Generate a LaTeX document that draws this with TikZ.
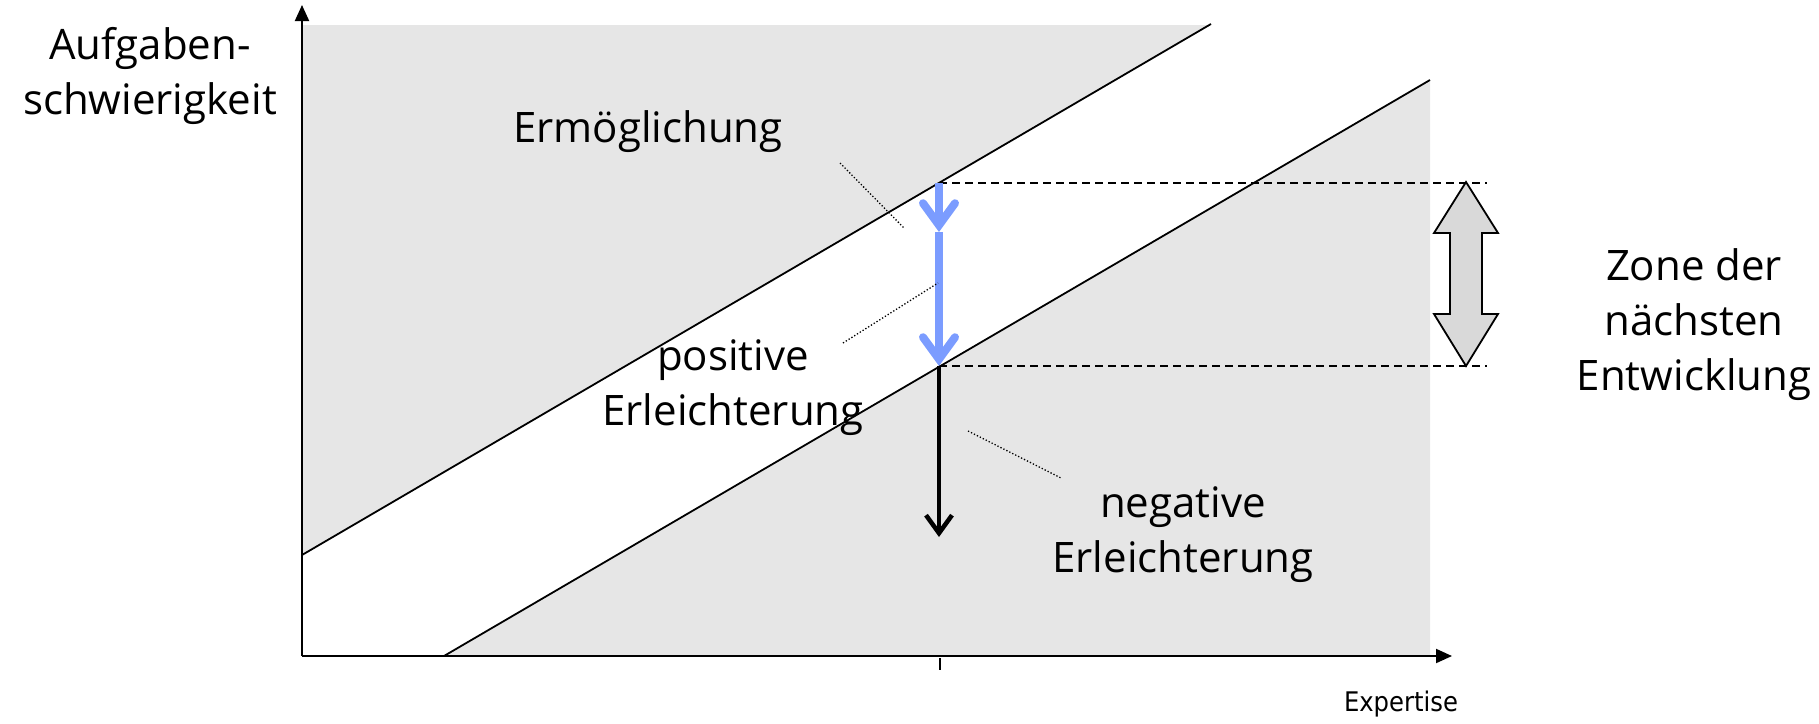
\documentclass[tikz,border=0pt]{standalone}
\usepackage{fontspec}
\setmainfont{Open Sans}
\newfontfamily\axisfont{DejaVu Sans Condensed}
\definecolor{ZoneGray}{HTML}{E6E6E6}
\definecolor{HeadGray}{HTML}{D9D9D9}
\definecolor{StepBlue}{HTML}{7B9CFF}
\usepackage{tikz}
\usetikzlibrary{positioning, arrows.meta}

\begin{document}
\begin{tikzpicture}[x=1pt, y=-1pt,
  lbl/.style={font=\fontsize{42}{55}\selectfont, align=center, inner sep=0pt},
  leader/.style={dotted, line width=1.3pt},
  guide/.style={dash pattern=on 8pt off 5pt, line width=1.3pt},
  axis/.style={line width=2pt, -{Triangle[length=16pt, width=14pt]}}]
  \useasboundingbox (0,0) rectangle (1819,723);

  %% key points
  \coordinate (o)    at (302,656);
  \coordinate (ytop) at (302,5);
  \coordinate (xend) at (1452,656);
  \coordinate (up0)  at (302,555);
  \coordinate (up1)  at (1211,24);
  \coordinate (lo0)  at (444,656);
  \coordinate (lo1)  at (1430,80);
  \coordinate (top)  at (939,183);
  \coordinate (mid)  at (939,232);
  \coordinate (bot)  at (939,366);
  \coordinate (down) at (939,537);

  %% shaded regions
  \fill[ZoneGray] (up0) -- (302,25) -- (1209,25) -- cycle;
  \fill[ZoneGray] (lo0) -- (lo1) -- (1430,656) -- cycle;

  %% boundary lines
  \draw[line width=1.8pt] (up0) -- (up1);
  \draw[line width=1.8pt] (lo0) -- (lo1);

  %% axes
  \draw[axis] (o) -- (ytop);
  \draw[axis] (o) -- (xend);
  \draw[line width=1.3pt] (940,658) -- (940,670);

  %% zone guides
  \draw[guide] (top) -- (1487,183);
  \draw[guide] (bot) -- (1487,366);
  \draw[line width=1.8pt, fill=HeadGray]
    (1466,182) -- (1498,233) -- (1482,233) -- (1482,314) -- (1498,314)
    -- (1466,366) -- (1434,314) -- (1450,314) -- (1450,233) -- (1434,233) -- cycle;

  %% arrows
  \draw[StepBlue, line width=8pt, -{Straight Barb[length=22pt, width=32pt, line cap=round]}]
    (top) -- (mid);
  \draw[StepBlue, line width=8pt, -{Straight Barb[length=22pt, width=32pt, line cap=round]}]
    (mid) -- (bot);
  \draw[line width=4.5pt, -{Straight Barb[length=18pt, width=26pt]}] (bot) -- (down);

  %% labels
  \node[lbl] (yax)  at (150,76)   {Aufgaben-\\schwierigkeit};
  \node[lbl] (ermo) at (648,132)  {Ermöglichung};
  \node[lbl] (pos)  at (733,388)  {positive\\Erleichterung};
  \node[lbl] (neg)  at (1183,535) {negative\\Erleichterung};
  \node[lbl] (zone) at (1694,325) {Zone der\\nächsten\\Entwicklung};
  \node[font=\axisfont\fontsize{27}{30}\selectfont, inner sep=0pt] (xax) at (1401,704) {Expertise};

  %% leaders
  \coordinate (l1a) at (840,163);  \coordinate (l1b) at (904,228);
  \coordinate (l2a) at (843,343);  \coordinate (l2b) at (938,283);
  \coordinate (l3a) at (968,431);  \coordinate (l3b) at (1061,478);
  \foreach \n in {1,2,3}{
    \draw[leader] (l\n a) -- (l\n b);
  }
\end{tikzpicture}
\end{document}
